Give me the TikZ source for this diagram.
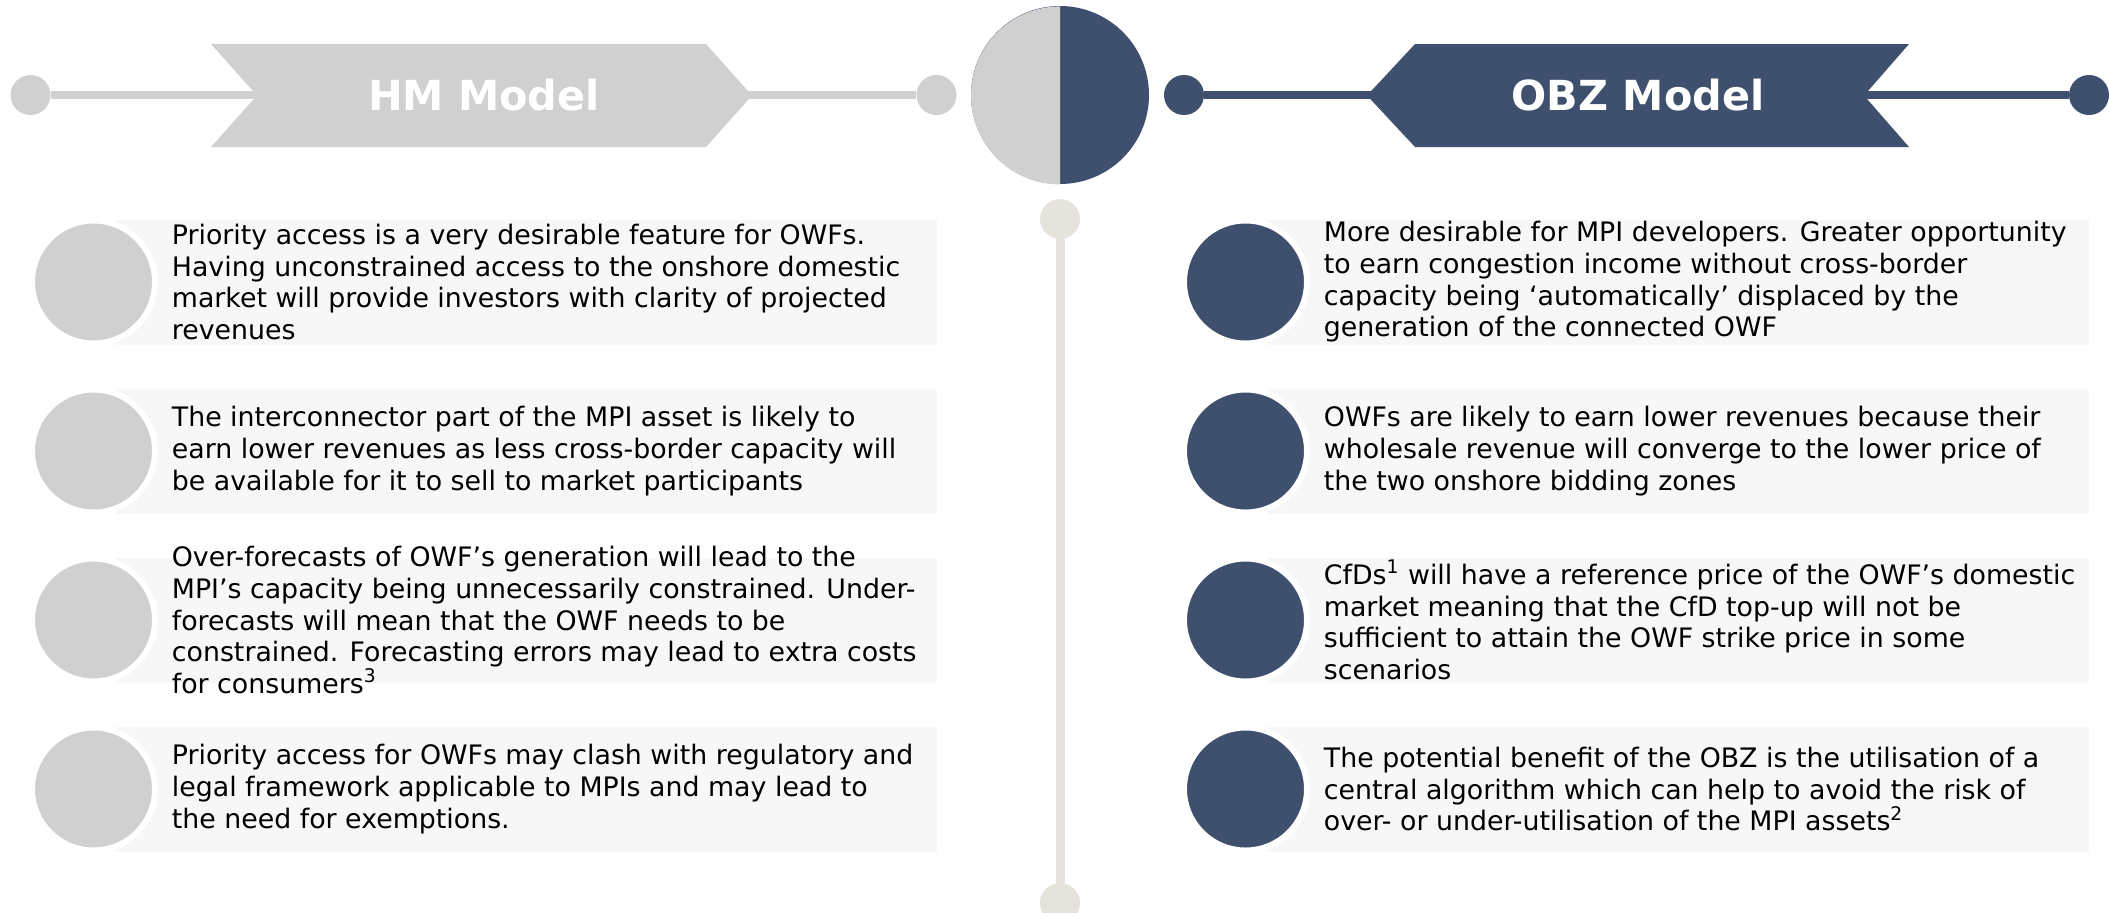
\documentclass[tikz,border=0pt]{standalone}
\usepackage{fontspec}
\setmainfont{DejaVu Sans}
\usetikzlibrary{positioning}
\definecolor{hmgray}{HTML}{D0D0D0}
\definecolor{obznavy}{HTML}{3F506F}
\definecolor{rowbg}{HTML}{F7F7F7}
\definecolor{axisbeige}{HTML}{E6E3DD}
\tikzstyle{rowbox} = [rectangle, fill=rowbg, minimum width=410.5pt, minimum height=62.5pt, inner sep=0pt]
\tikzstyle{rowtext} = [anchor=west, align=left, inner sep=0pt, text=black, font=\fontsize{13.4}{15.85}\selectfont]
\tikzstyle{title} = [text=white, font=\fontsize{20.7}{24}\selectfont\bfseries]

\begin{document}
\begin{tikzpicture}[
    x=0.5pt, y=-0.5pt,
    enddot/.style={circle, minimum size=20pt, inner sep=0pt},
    hmbullet/.style={circle, minimum size=61.5pt, inner sep=0pt, fill=hmgray, draw=white, line width=3pt},
    obzbullet/.style={circle, minimum size=61.5pt, inner sep=0pt, fill=obznavy, draw=white, line width=3pt},
    bar/.style={line width=4pt}
  ]
    \useasboundingbox (0,0) rectangle (2109,912);

    % Centre axis
    \node[enddot, fill=axisbeige] (axtop) at (1060,219) {};
    \node[enddot, fill=axisbeige] (axbot) at (1060,903) {};
    \draw[bar, axisbeige, line width=4.5pt] (axtop) -- (axbot);

    % Hub circle: grey half and navy half
    \node[circle, minimum size=89pt, inner sep=0pt, fill=obznavy] (hub) at (1060,95) {};
    \fill[hmgray] (hub.south) arc[start angle=90, end angle=270, radius=89] -- cycle;

    % Header: HM Model
    \node[enddot, fill=hmgray] (hml) at (30.5,95) {};
    \node[enddot, fill=hmgray] (hmr) at (936.5,95) {};
    \draw[bar, hmgray] (hml) -- (hmr);
    \fill[hmgray] (211,44) -- (706,44) -- (752,95.5) -- (706,147) -- (211,147) -- (257,95.5) -- cycle;
    \node[title] (hmtitle) at (484,95.5) {HM Model};

    % Header: OBZ Model
    \node[enddot, fill=obznavy] (obzl) at (1184,95) {};
    \node[enddot, fill=obznavy] (obzr) at (2089,95) {};
    \draw[bar, obznavy] (obzl) -- (obzr);
    \fill[obznavy] (1415,44) -- (1909,44) -- (1864,95.5) -- (1909,147) -- (1415,147) -- (1367,95.5) -- cycle;
    \node[title] (obztitle) at (1638,95.5) {OBZ Model};

    % Left column: HM points
    \node[rowbox] (l1box) at (526,282) {};
    \node[hmbullet] (l1dot) at (93.5,282) {};
    \node[rowtext] (l1txt) at (171.5,282) {Priority access is a very desirable feature for OWFs.\\Having unconstrained access to the onshore domestic\\market will provide investors with clarity of projected\\revenues};

    \node[rowbox] (l2box) at (526,451) {};
    \node[hmbullet] (l2dot) at (93.5,451) {};
    \node[rowtext] (l2txt) at (171.5,451) {The interconnector part of the MPI asset is likely to\\earn lower revenues as less cross-border capacity will\\be available for it to sell to market participants};

    \node[rowbox] (l3box) at (526,620) {};
    \node[hmbullet] (l3dot) at (93.5,620) {};
    \node[rowtext] (l3txt) at (171.5,620) {Over-forecasts of OWF’s generation will lead to the\\MPI’s capacity being unnecessarily constrained. Under-\\forecasts will mean that the OWF needs to be\\constrained. Forecasting errors may lead to extra costs\\for consumers\textsuperscript{3}};

    \node[rowbox] (l4box) at (526,789) {};
    \node[hmbullet] (l4dot) at (93.5,789) {};
    \node[rowtext] (l4txt) at (171.5,789) {Priority access for OWFs may clash with regulatory and\\legal framework applicable to MPIs and may lead to\\the need for exemptions.};

    % Right column: OBZ points
    \node[rowbox] (r1box) at (1678,282) {};
    \node[obzbullet] (r1dot) at (1245.5,282) {};
    \node[rowtext] (r1txt) at (1323.5,282) {More desirable for MPI developers. Greater opportunity\\to earn congestion income without cross-border\\capacity being ‘automatically’ displaced by the\\generation of the connected OWF};

    \node[rowbox] (r2box) at (1678,451) {};
    \node[obzbullet] (r2dot) at (1245.5,451) {};
    \node[rowtext] (r2txt) at (1323.5,451) {OWFs are likely to earn lower revenues because their\\wholesale revenue will converge to the lower price of\\the two onshore bidding zones};

    \node[rowbox] (r3box) at (1678,620) {};
    \node[obzbullet] (r3dot) at (1245.5,620) {};
    \node[rowtext] (r3txt) at (1323.5,620) {CfDs\textsuperscript{1} will have a reference price of the OWF’s domestic\\market meaning that the CfD top-up will not be\\sufficient to attain the OWF strike price in some\\scenarios};

    \node[rowbox] (r4box) at (1678,789) {};
    \node[obzbullet] (r4dot) at (1245.5,789) {};
    \node[rowtext] (r4txt) at (1323.5,789) {The potential benefit of the OBZ is the utilisation of a\\central algorithm which can help to avoid the risk of\\over- or under-utilisation of the MPI assets\textsuperscript{2}};
  \end{tikzpicture}
\end{document}
